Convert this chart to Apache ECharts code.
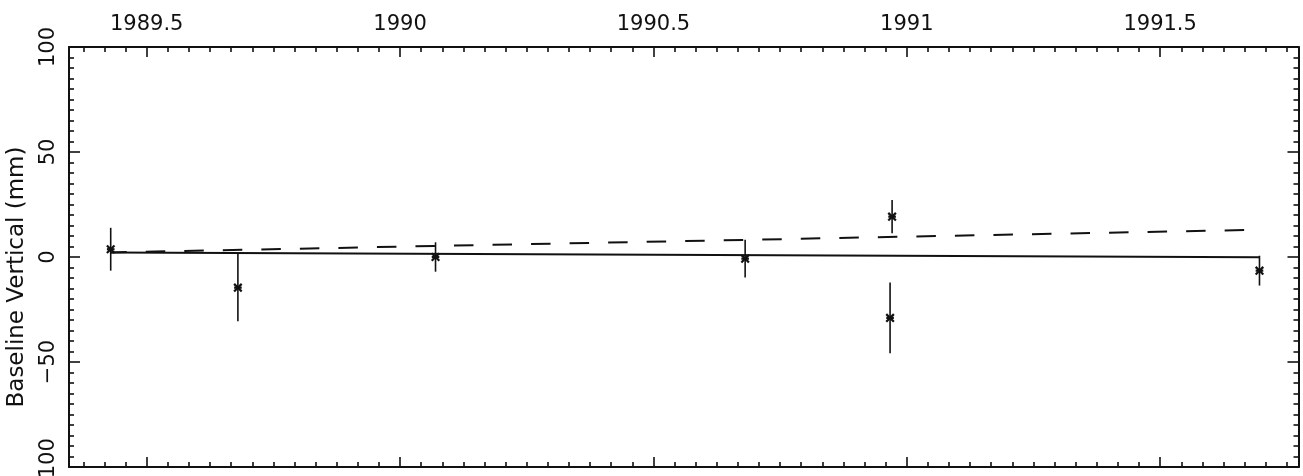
<!DOCTYPE html>
<html>
<head>
<meta charset="utf-8">
<script src="https://cdn.jsdelivr.net/npm/echarts@6/dist/echarts.min.js"></script>
<style>
html,body{margin:0;padding:0;background:#fff;}
#chart{width:1303px;height:476px;}
</style>
</head>
<body>
<div id="chart"></div>
<script>
// ---- data ----
const xMin = 1989.3467;
const xMax = 1991.773;
const xMajorTicks = [1989.5, 1990, 1990.5, 1991, 1991.5];
const xTickLabels = ['1989.5', '1990', '1990.5', '1991', '1991.5'];
const yTickLabels = ['-100', '-50', '0', '50', '100'];

// observations: epoch (year), baseline vertical (mm), 1-sigma error (mm)
const obsYears  = [1989.429, 1989.680, 1990.070, 1990.681, 1990.967, 1990.971, 1991.696];
const obsValues = [3.7, -14.6, 0.0, -0.8, -29.0, 19.2, -6.5];
const obsErrors = [10.2, 16.0, 7.0, 9.0, 16.8, 7.9, 7.1];

// fitted trends
const fitYears   = [1989.429, 1991.696];
const solidFit   = [2.2, -0.1];
const dashedFit  = [2.2, 13.0];

// minor x ticks: every half month
const xMinorTicks = [];
for (let k = -6; k <= 60; k++) {
  const v = 1989.5 + k / 24;
  if (v > xMin + 1e-6 && v < xMax - 1e-6 && k % 12 !== 0) xMinorTicks.push(+v.toFixed(5));
}

const INK = '#111';
const FONT = 'DejaVu Sans';

const chart = echarts.init(document.getElementById('chart'), null, {renderer: 'canvas'});

function xAxisDef(position, ticks, len, withLine, withLabels) {
  return {
    type: 'value', position: position, min: xMin, max: xMax,
    axisLine: {show: withLine, onZero: false, lineStyle: {color: INK, width: 2}},
    axisTick: {show: true, inside: true, length: len, customValues: ticks,
               lineStyle: {color: INK, width: 1.6}},
    axisLabel: withLabels ? {
      show: true, customValues: xMajorTicks, margin: 12,
      color: INK, fontFamily: FONT, fontSize: 21,
      formatter: function (v) {
        const i = xMajorTicks.findIndex(t => Math.abs(t - v) < 1e-6);
        return i >= 0 ? xTickLabels[i] : '';
      }
    } : {show: false},
    splitLine: {show: false}
  };
}

const option = {
  backgroundColor: '#fff',
  animation: false,
  grid: {left: 69, right: 4.5, top: 47, bottom: 9, containLabel: false, outerBoundsMode: 'none'},
  xAxis: [
    xAxisDef('top', xMajorTicks, 10, true, true),
    xAxisDef('top', xMinorTicks, 5, false, false),
    xAxisDef('bottom', xMajorTicks, 10, true, false),
    xAxisDef('bottom', xMinorTicks, 5, false, false)
  ],
  yAxis: [
    {
      type: 'value', position: 'left', min: -100, max: 100, interval: 50,
      name: 'Baseline Vertical (mm)', nameLocation: 'middle', nameGap: 40,
      nameTextStyle: {color: INK, fontFamily: FONT, fontSize: 23, padding: [0, 40, 0, 0]},
      axisLine: {show: true, onZero: false, lineStyle: {color: INK, width: 2}},
      axisTick: {show: true, inside: true, length: 11, lineStyle: {color: INK, width: 1.6}},
      minorTick: {show: true, splitNumber: 10, length: 5, lineStyle: {color: INK, width: 1.6}},
      axisLabel: {
        show: true, rotate: 90, margin: 10, color: INK, fontFamily: FONT, fontSize: 21,
        formatter: function (v) {
          const i = [-100, -50, 0, 50, 100].indexOf(Math.round(v));
          return i >= 0 ? yTickLabels[i].replace('-', '\u2212') : '';
        }
      },
      splitLine: {show: false}, minorSplitLine: {show: false}
    },
    {
      type: 'value', position: 'right', min: -100, max: 100, interval: 50,
      axisLine: {show: true, onZero: false, lineStyle: {color: INK, width: 2}},
      axisTick: {show: true, inside: true, length: 11, lineStyle: {color: INK, width: 1.6}},
      minorTick: {show: true, splitNumber: 10, length: 5, lineStyle: {color: INK, width: 1.6}},
      axisLabel: {show: false},
      splitLine: {show: false}, minorSplitLine: {show: false}
    }
  ],
  series: [
    {
      type: 'line', xAxisIndex: 0, yAxisIndex: 0, symbol: 'none', silent: true,
      data: fitYears.map((x, i) => [x, solidFit[i]]),
      lineStyle: {color: INK, width: 2}
    },
    {
      type: 'line', xAxisIndex: 0, yAxisIndex: 0, symbol: 'none', silent: true,
      data: fitYears.map((x, i) => [x, dashedFit[i]]),
      lineStyle: {color: INK, width: 2, type: [19.5, 19.04], dashOffset: 3.5}
    },
    {
      type: 'custom', xAxisIndex: 0, yAxisIndex: 0, silent: true,
      data: obsYears.map((x, i) => [x, obsValues[i], obsErrors[i]]),
      renderItem: function (params, api) {
        const x = api.value(0), y = api.value(1), e = api.value(2);
        const p = api.coord([x, y]);
        const t = api.coord([x, y + e]);
        const b = api.coord([x, y - e]);
        const s = 3.8;
        const st = {stroke: INK, lineWidth: 1.6};
        const ms = {stroke: INK, lineWidth: 2.2};
        return {
          type: 'group',
          children: [
            {type: 'line', shape: {x1: t[0], y1: t[1], x2: b[0], y2: b[1]}, style: st},
            {type: 'line', shape: {x1: p[0] - s, y1: p[1] - s, x2: p[0] + s, y2: p[1] + s}, style: ms},
            {type: 'line', shape: {x1: p[0] - s, y1: p[1] + s, x2: p[0] + s, y2: p[1] - s}, style: ms},
            {type: 'line', shape: {x1: p[0] - s, y1: p[1], x2: p[0] + s, y2: p[1]}, style: ms}
          ]
        };
      }
    }
  ]
};
chart.setOption(option);
</script>
</body>
</html>
